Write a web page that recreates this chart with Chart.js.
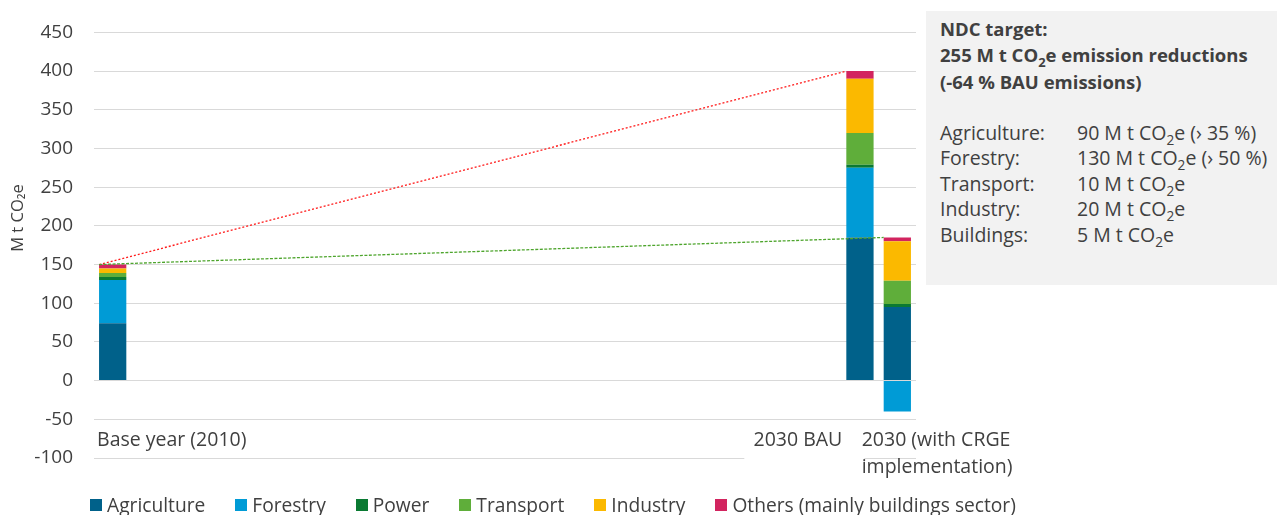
<!DOCTYPE html>
<html>
<head>
<meta charset="utf-8">
<script src="https://cdn.jsdelivr.net/npm/chart.js@4"></script>
<style>
  html, body { margin: 0; padding: 0; background: #fff; }
  #wrap { position: relative; width: 1277px; height: 515px; overflow: hidden; font-family: "Open Sans", sans-serif; color: #404040; }
  #chart-box { position: absolute; left: 0; top: 0; width: 1277px; height: 515px; }
  #note { position: absolute; left: 926px; top: 11px; width: 351px; height: 274px; background: #f2f2f2; box-sizing: border-box; padding: 5px 0 0 14px; font-size: 19.5px; line-height: 26.3px; }
  #note .head { font-weight: bold; font-size: 18.5px; }
  #note table { border-collapse: collapse; margin-top: 25px; line-height: 25.5px; }
  #note td { padding: 0; white-space: nowrap; }
  #note td:first-child { width: 137px; }
  #legend { position: absolute; left: 90px; top: 494px; display: flex; font-size: 19.2px; line-height: 22px; white-space: nowrap; }
  #legend .item { display: flex; align-items: center; margin-right: 30px; }
  #legend .sw { width: 12px; height: 12px; margin-right: 5px; }
  sub { font-size: 70%; line-height: 0; }
</style>
</head>
<body>
<div id="wrap">
  <div id="chart-box"><canvas id="c"></canvas></div>
  <div id="note">
    <div class="head">NDC target:<br>255 M t CO<sub>2</sub>e emission reductions<br>(-64 % BAU emissions)</div>
    <table id="targets"></table>
  </div>
  <div id="legend"></div>
</div>
<script>
// categories and where they sit on the 2010..2031 slot axis
const categories = ["Base year (2010)", "2030 BAU", "2030 (with CRGE implementation)"];
const slotIndex = [0, 20, 21];
const slotCount = 22;

const sectors = ["Agriculture", "Forestry", "Power", "Transport", "Industry", "Others (mainly buildings sector)"];
const colors = ["#00618a", "#009bd6", "#0a7a32", "#5fae3a", "#fbb900", "#d2245f"];

// M t CO2e per sector, one value per category
const agriculture = [74, 185, 95];
const forestry = [56, 90, -40];
const power = [4, 4, 4];
const transport = [5, 41, 30];
const industry = [6, 70, 51];
const others = [5, 10, 5];

const yTicks = { min: -100, max: 450, step: 50 };

const targetRows = [
  ["Agriculture:", "90 M t CO<sub>2</sub>e (&rsaquo; 35 %)"],
  ["Forestry:", "130 M t CO<sub>2</sub>e (&rsaquo; 50 %)"],
  ["Transport:", "10 M t CO<sub>2</sub>e"],
  ["Industry:", "20 M t CO<sub>2</sub>e"],
  ["Buildings:", "5 M t CO<sub>2</sub>e"]
];

const series = [agriculture, forestry, power, transport, industry, others];

const labels = Array(slotCount).fill("");
slotIndex.forEach((s, i) => { labels[s] = categories[i]; });

function spread(values) {
  const out = Array(slotCount).fill(null);
  slotIndex.forEach((s, i) => { out[s] = values[i]; });
  return out;
}

const datasets = series.map((vals, i) => ({
  label: sectors[i],
  data: spread(vals),
  backgroundColor: colors[i],
  borderWidth: 0,
  categoryPercentage: 0.73,
  barPercentage: 1
}));

// positive totals per category (top of each stack)
const totals = categories.map((_, i) => series.reduce((a, s) => a + Math.max(s[i], 0), 0));

const FONT = "'Open Sans', sans-serif";
const TEXT = "#404040";

const overlay = {
  id: "overlay",
  afterDatasetsDraw(chart) {
    const ctx = chart.ctx;
    const y = chart.scales.y;
    const meta = chart.getDatasetMeta(0);
    const left = i => { const b = meta.data[slotIndex[i]]; return b.x - b.width / 2; };
    const dotted = (i, j, color, dash) => {
      ctx.save();
      ctx.strokeStyle = color;
      ctx.lineWidth = 1.3;
      ctx.setLineDash(dash);
      ctx.beginPath();
      ctx.moveTo(left(i), y.getPixelForValue(totals[i]));
      ctx.lineTo(left(j), y.getPixelForValue(totals[j]));
      ctx.stroke();
      ctx.restore();
    };
    dotted(0, 1, "#ff1a1a", [2, 2]);
    dotted(0, 2, "#4ea52d", [3, 1.5]);
  },
  afterDraw(chart) {
    const ctx = chart.ctx;
    const y = chart.scales.y;
    const meta = chart.getDatasetMeta(0);
    const bar = i => meta.data[slotIndex[i]];
    ctx.save();
    ctx.font = "19.5px " + FONT;
    ctx.textBaseline = "middle";
    const yLab = y.getPixelForValue(-77);
    // label boxes hide the gridlines behind them
    ctx.fillStyle = "#fff";
    const b0 = bar(0).x - bar(0).width / 2;
    ctx.fillRect(b0 - 6, y.getPixelForValue(-52) , 180, 34);
    const b1 = bar(1).x - bar(1).width / 2;
    ctx.fillRect(b1 - 102, y.getPixelForValue(-60), 120, 38);
    ctx.fillStyle = TEXT;
    ctx.textAlign = "left";
    ctx.fillText(categories[0], b0 - 2, yLab);
    ctx.textAlign = "right";
    ctx.fillText(categories[1], b1 - 4, yLab);
    ctx.textAlign = "left";
    const b2 = bar(2).x - bar(2).width / 2;
    ctx.fillText("2030 (with CRGE", b2 - 22, yLab);
    ctx.fillText("implementation)", b2 - 22, yLab + 27);
    // y axis title
    ctx.font = "16.5px " + FONT;
    ctx.translate(18, 218);
    ctx.rotate(-Math.PI / 2);
    ctx.textAlign = "center";
    ctx.fillText("M t CO\u2082e", 0, 0);
    ctx.restore();
  }
};

new Chart(document.getElementById("c"), {
  type: "bar",
  data: { labels, datasets },
  options: {
    responsive: true,
    maintainAspectRatio: false,
    animation: false,
    layout: { padding: { top: 29.5, bottom: 57, left: 0, right: 361 } },
    plugins: { legend: { display: false }, tooltip: { enabled: false } },
    scales: {
      x: { stacked: true, display: false },
      y: {
        stacked: true,
        min: yTicks.min,
        max: yTicks.max,
        afterFit(s) { s.width = 94; },
        ticks: { stepSize: yTicks.step, color: TEXT, font: { family: FONT, size: 19 }, padding: 21 },
        grid: { color: "#d9d9d9", drawTicks: false, lineWidth: 1 },
        border: { display: false }
      }
    }
  },
  plugins: [overlay]
});

document.getElementById("targets").innerHTML = targetRows
  .map(r => "<tr><td>" + r[0] + "</td><td>" + r[1] + "</td></tr>").join("");

document.getElementById("legend").innerHTML = sectors
  .map((s, i) => '<div class="item"><span class="sw" style="background:' + colors[i] + '"></span>' + s + "</div>")
  .join("");
</script>
</body>
</html>
